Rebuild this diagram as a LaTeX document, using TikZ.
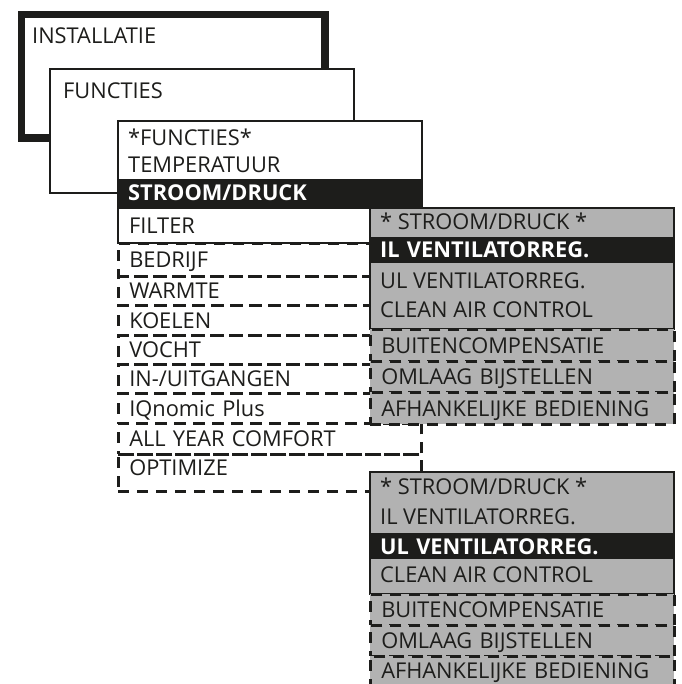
\documentclass[tikz,border=0pt]{standalone}
\usepackage{fontspec}
\setmainfont{Open Sans}
\usepackage{xcolor}

\definecolor{ink}{HTML}{1D1D1B}
\definecolor{panel}{HTML}{B2B2B2}

\tikzset{
  menufont/.style={font=\fontsize{21.8}{22}\selectfont},
  box/.style={rectangle, anchor=north west, inner sep=0pt, draw=ink, line width=2pt, fill=white},
  entry/.style={anchor=west, inner sep=0pt, text=ink, text height=15.6pt, text depth=0pt, menufont},
  bar/.style={rectangle, anchor=north west, fill=ink, text=white, minimum width=304pt, text width=282pt,
    inner xsep=11pt, inner ysep=0pt, align=left, text height=15.6pt, text depth=0pt,
    font=\bfseries\fontsize{21.8}{22}\selectfont},
  option/.style={rectangle, anchor=north west, draw=ink, line width=2.6pt, dash pattern=on 11pt off 8pt,
    minimum width=303pt, text width=281pt, inner xsep=11pt, inner ysep=0pt, align=left,
    text height=15.6pt, text depth=0pt, text=ink, menufont},
}

\begin{document}
\begin{tikzpicture}[x=1pt,y=-1pt]
    \useasboundingbox (0,0) rectangle (681,684);
    %% level 1 and 2
    \node[box, line width=7.5pt, minimum width=303.5pt, minimum height=123.5pt] (installatie) at (17.5,11) {};
    \node[entry] (installatielabel) at (32,36) {INSTALLATIE};
    \node[box, minimum width=304pt, minimum height=124pt] (functies) at (49,68) {};
    \node[entry] (functieslabel) at (63,91) {FUNCTIES};
    %% functions menu
    \node[box, minimum width=304pt, minimum height=87pt] (menu) at (117,120) {};
    \node[entry] (menutitle) at (128,138) {*FUNCTIES*};
    \node[entry] (temperatuur) at (128,165) {TEMPERATUUR};
    \node[bar, minimum height=28pt] (stroom) at (117,179) {STROOM/DRUCK};
    \node[option, solid, line width=2pt, fill=white, minimum width=304pt, text width=282pt, minimum height=35pt] (filter) at (117,207) {FILTER};
    \node[option, minimum height=33pt] (bedrijf) at (117,242) {BEDRIJF};
    \node[option, minimum height=29pt] (warmte) at (117,275) {WARMTE};
    \node[option, minimum height=30pt] (koelen) at (117,304) {KOELEN};
    \node[option, minimum height=29pt] (vocht) at (117,334) {VOCHT};
    \node[option, minimum height=29pt] (inuit) at (117,363) {IN-/UITGANGEN};
    \node[option, minimum height=30pt] (iqnomic) at (117,392) {IQnomic Plus};
    \node[option, minimum height=31pt] (allyear) at (117,422) {ALL YEAR COMFORT};
    \node[option, minimum height=37pt, text depth=10pt] (optimize) at (117,453) {OPTIMIZE};
    %% stroom/druck, IL selected
    \node[box, fill=panel, minimum width=304pt, minimum height=121pt] (ilmenu) at (369,207) {};
    \node[entry] (iltitle) at (380,222) {* STROOM/DRUCK *};
    \node[bar, minimum height=26pt] (ilvent) at (369,237) {IL VENTILATORREG.};
    \node[entry] (ilul) at (380,281) {UL VENTILATORREG.};
    \node[entry] (ilclean) at (380,310) {CLEAN AIR CONTROL};
    \node[option, fill=panel, minimum width=304pt, text width=282pt, minimum height=32pt] (ilbuiten) at (369,328) {BUITENCOMPENSATIE};
    \node[option, fill=panel, minimum width=304pt, text width=282pt, minimum height=31pt] (ilomlaag) at (369,360) {OMLAAG BIJSTELLEN};
    \node[option, fill=panel, minimum width=304pt, text width=282pt, minimum height=32pt] (ilafh) at (369,391) {AFHANKELIJKE BEDIENING};
    %% stroom/druck, UL selected
    \node[box, fill=panel, minimum width=304pt, minimum height=122pt] (ulmenu) at (369,471) {};
    \node[entry] (ultitle) at (380,487) {* STROOM/DRUCK *};
    \node[entry] (ulil) at (380,517) {IL VENTILATORREG.};
    \node[bar, minimum height=26pt] (ulvent) at (369,533) {UL VENTILATORREG.};
    \node[entry] (ulclean) at (380,575) {CLEAN AIR CONTROL};
    \node[option, fill=panel, minimum width=304pt, text width=282pt, minimum height=31pt] (ulbuiten) at (369,593) {BUITENCOMPENSATIE};
    \node[option, fill=panel, minimum width=304pt, text width=282pt, minimum height=31pt] (ulomlaag) at (369,624) {OMLAAG BIJSTELLEN};
    \node[option, fill=panel, minimum width=304pt, text width=282pt, minimum height=34pt, text depth=6pt] (ulafh) at (369,655) {AFHANKELIJKE BEDIENING};
    %
\end{tikzpicture}
\end{document}
